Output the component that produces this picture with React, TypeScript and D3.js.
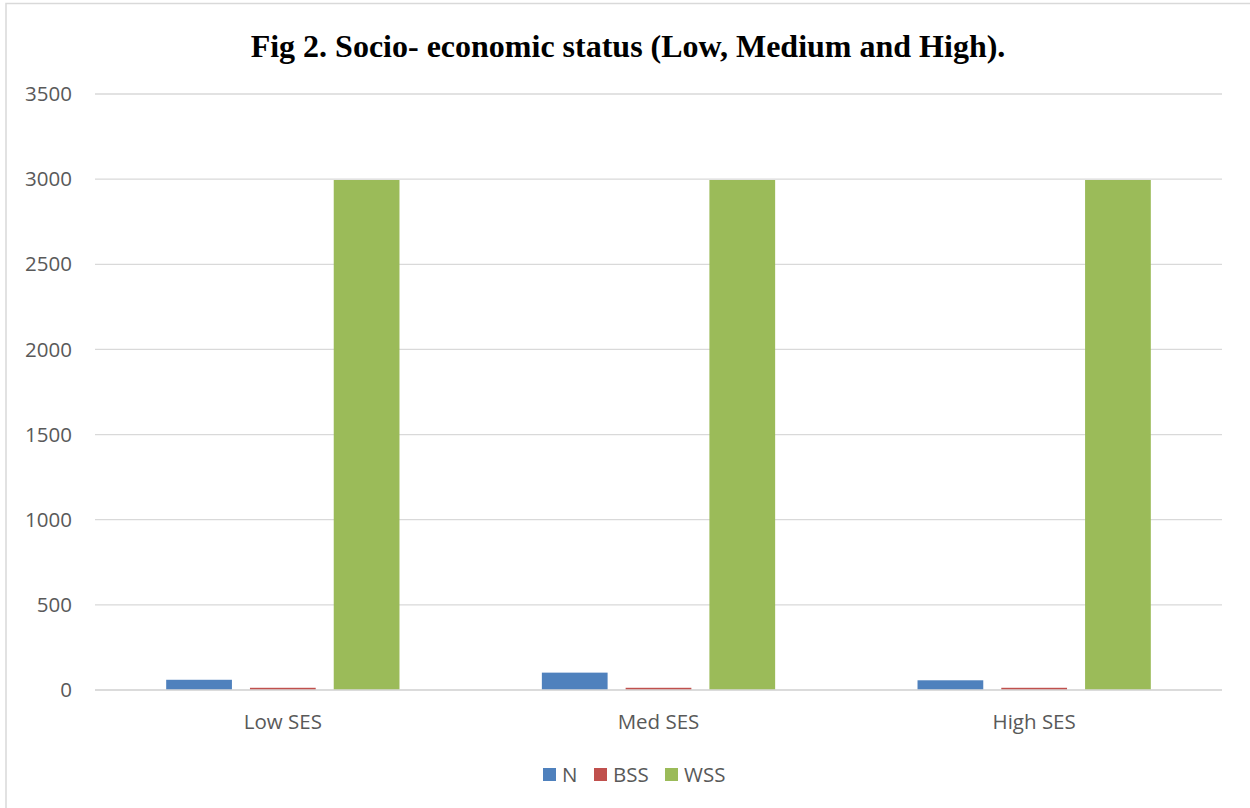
import React from "react";
import * as d3 from "d3";

const categories = ["Low SES", "Med SES", "High SES"];
const seriesNames = ["N", "BSS", "WSS"];
const nValues = [60, 102, 57];
const bssValues = [13, 13, 13];
const wssValues = [2995, 2995, 2995];
const yTicks = [0, 500, 1000, 1500, 2000, 2500, 3000, 3500];
const colors = ["#4F81BD", "#C0504D", "#9BBB59"];
const title = "Fig 2. Socio- economic status (Low, Medium and High).";

export default function App() {
  const W = 1250, H = 808;
  const left = 95, right = 1222, top = 94, bottom = 690;
  const x = d3.scaleBand<string>().domain(categories).range([left, right]).paddingInner(0).paddingOuter(0);
  const y = d3.scaleLinear().domain([0, 3500]).range([bottom, top]);
  const band = x.bandwidth();
  const barW = band * 0.175;
  const gap = band * 0.048;
  const groupW = barW * 3 + gap * 2;
  const series = [nValues, bssValues, wssValues];
  const font = "'Open Sans', 'Liberation Sans', sans-serif";
  const fs = 20.5;

  const legendItems = [
    { name: seriesNames[0], x: 543 },
    { name: seriesNames[1], x: 594 },
    { name: seriesNames[2], x: 665 },
  ];

  return (
    <svg width={W} height={H} style={{ position: "absolute", left: 0, top: 0, background: "#fff" }}>
      <rect x={6} y={3.5} width={W} height={H} fill="#fff" stroke="#D9D9D9" strokeWidth={1.5} />
      <text x={628} y={57} textAnchor="middle" fontFamily="'Liberation Serif', 'Times New Roman', serif" fontWeight="bold" fontSize={32} fill="#000">
        {title}
      </text>
      {yTicks.map((t) => (
        <g key={t}>
          <line x1={left} x2={right} y1={y(t)} y2={y(t)} stroke="#D9D9D9" strokeWidth={1.3} />
          <text x={72} y={y(t)} dy="0.35em" textAnchor="end" fontFamily={font} fontSize={fs} fill="#595959">
            {t}
          </text>
        </g>
      ))}
      {categories.map((c, ci) => {
        const x0 = (x(c) as number) + (band - groupW) / 2;
        return (
          <g key={c}>
            {series.map((vals, si) => (
              <rect
                key={si}
                x={x0 + si * (barW + gap)}
                y={y(vals[ci])}
                width={barW}
                height={bottom - y(vals[ci])}
                fill={colors[si]}
              />
            ))}
            <text x={(x(c) as number) + band / 2} y={729} textAnchor="middle" fontFamily={font} fontSize={fs} fill="#595959">
              {c}
            </text>
          </g>
        );
      })}
      <line x1={left} x2={right} y1={bottom} y2={bottom} stroke="#D9D9D9" strokeWidth={1.5} />
      {legendItems.map((it, i) => (
        <g key={it.name}>
          <rect x={it.x} y={768} width={13} height={13} fill={colors[i]} />
          <text x={it.x + 19} y={775} dy="0.35em" fontFamily={font} fontSize={fs} fill="#595959">
            {it.name}
          </text>
        </g>
      ))}
    </svg>
  );
}
